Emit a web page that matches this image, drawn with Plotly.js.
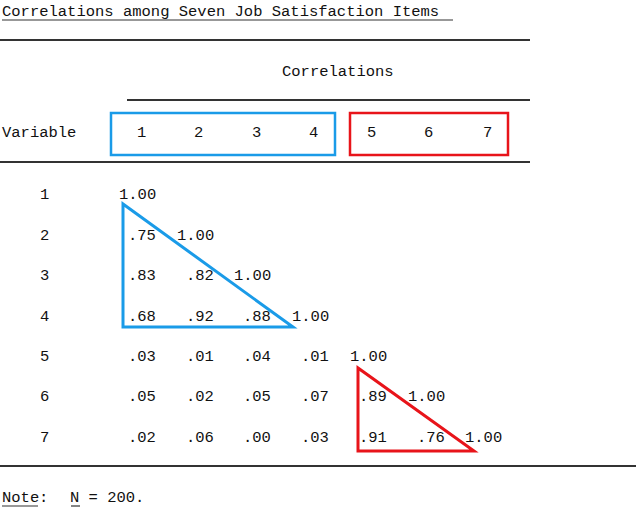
<html><head><script src="https://cdn.plot.ly/plotly-3.0.1.min.js"></script>
<style>body{margin:0;background:#fff}</style></head><body><div id="c" style="width:642px;height:509px"></div><script>
const title = "Correlations among Seven Job Satisfaction Items";
const variables = ["1","2","3","4","5","6","7"];
const corr = [
  ["1.00"],
  [".75","1.00"],
  [".83",".82","1.00"],
  [".68",".92",".88","1.00"],
  [".03",".01",".04",".01","1.00"],
  [".05",".02",".05",".07",".89","1.00"],
  [".02",".06",".00",".03",".91",".76","1.00"]
];
const note = "N = 200.";
// layout positions (pixel coords)
const colRight = [155,213,270,328,386,444,501];
const colHead = [141,198,256,313,371,428,487];
const rowY = [195,236,276,317,357,397,438];
const F = {family:"Liberation Mono, DejaVu Sans Mono, monospace", size:15.5, color:"#111"};
const ann = [];
function A(x,y,t,anchor,extra){ann.push(Object.assign({x:x,y:y,text:t,xref:'x',yref:'y',showarrow:false,xanchor:anchor||'left',yanchor:'middle',font:F},extra||{}));}
A(0,12,title,'left');
A(338,72,"Correlations",'center');
A(0,133,"Variable",'left');
variables.forEach((v,i)=>A(colHead[i],133,v,'center'));
variables.forEach((v,i)=>A(44,rowY[i],v,'center'));
corr.forEach((row,r)=>row.forEach((v,c)=>A(colRight[c]+3,rowY[r],v,'right')));
A(0,498,"Note",'left');A(37,498,":",'left');A(68,498,note,'left');
const dark="#333";
const L=(x0,y0,x1,y1,c,w)=>({type:'line',x0,y0,x1,y1,xref:'x',yref:'y',line:{color:c,width:w}});
const shapes=[
  L(2,20,453,20,dark,1.2),
  L(0,40,530,40,dark,2),L(127,100,530,100,dark,2),L(0,162,530,162,dark,2),L(0,466,636,466,dark,2),
  L(2,506,38,506,dark,1.2),L(71,506,80,506,dark,1.2),
  {type:'rect',x0:111,y0:113,x1:335,y1:155,xref:'x',yref:'y',line:{color:'#1a9be8',width:2.5}},
  {type:'rect',x0:350,y0:113,x1:508,y1:155,xref:'x',yref:'y',line:{color:'#e8141a',width:2.5}},
  {type:'path',path:'M123,204 L123,327 L293,327 Z',xref:'x',yref:'y',line:{color:'#1a9be8',width:3}},
  {type:'path',path:'M358,368 L358,451 L474,451 Z',xref:'x',yref:'y',line:{color:'#e8141a',width:3}}
];
Plotly.newPlot('c',[{x:[0],y:[0],mode:'markers',marker:{opacity:0},hoverinfo:'skip'}],{
  width:642,height:509,margin:{l:0,r:0,t:0,b:0},paper_bgcolor:'#fff',plot_bgcolor:'#fff',showlegend:false,
  xaxis:{range:[0,642],visible:false,fixedrange:true},
  yaxis:{range:[509,0],visible:false,fixedrange:true},
  annotations:ann,shapes:shapes},{staticPlot:true});
</script></body></html>
